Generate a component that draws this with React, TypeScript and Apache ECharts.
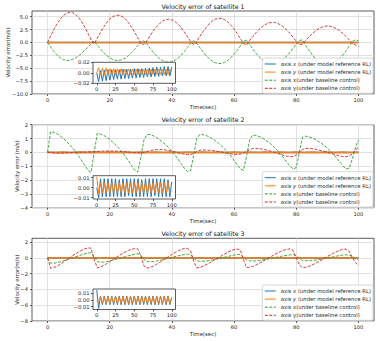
import { useEffect, useRef } from "react";
import * as echarts from "echarts";

// ---------------- data ----------------
const BASE_STEP = 1; // seconds between samples of the baseline curves
const RL_STEP = 2.5; // seconds between samples of the RL curves

const NAME_X_RL = "axis x (under model reference RL)";
const NAME_Y_RL = "axis y (under model reference RL)";
const NAME_X_BASE = "axis x(under baseline control)";
const NAME_Y_BASE = "axis y(under baseline control)";

const TITLES = ["Velocity error of satellite 1", "Velocity error of satellite 2", "Velocity error of satellite 3"];
const Y_LABELS = ["Velocity error(m/s)", "Velocity error (m/s)", "Velocity error(m/s)"];
const X_LABEL = "Time(sec)";

const X_TICKS = [0, 20, 40, 60, 80, 100];
const INSET_X_TICKS = [0, 25, 50, 75, 100];
const Y1_TICKS = [-10, -7.5, -5, -2.5, 0, 2.5, 5];
const Y2_TICKS = [-4, -3, -2, -1, 0, 1, 2];
const Y3_TICKS = [-8, -6, -4, -2, 0, 2];
const INSET1_Y_TICKS = [-0.02, 0, 0.02];
const INSET2_Y_TICKS = [-0.01, 0, 0.01];
const INSET3_Y_TICKS = [-0.01, 0, 0.01];

// satellite 1, baseline control (t = 0..100 s)
const S1_X_BASE = [
  0, -0.9, -1.7, -2.4, -2.95, -3.3, -3.5, -3.45, -3.3, -3.0, -2.6, -2.1, -1.5, -0.9, -0.3,
  0.3,
  -0.53, -1.26, -1.93, -2.51, -2.98, -3.3, -3.48, -3.48, -3.33, -3.02, -2.57, -2.0, -1.33, -0.61,
  0.2, 0.3,
  -0.33, -1.14, -1.9, -2.57, -3.12, -3.53, -3.78, -3.85, -3.74, -3.47, -3.03, -2.45, -1.76, -0.99, -0.16,
  0.35,
  -0.17, -1.02, -1.82, -2.55, -3.16, -3.63, -3.95, -4.09, -4.05, -3.84, -3.46, -2.93, -2.27, -1.51, -0.68,
  0.3, 0.45,
  -0.43, -1.26, -2.05, -2.76, -3.35, -3.82, -4.13, -4.29, -4.27, -4.09, -3.74, -3.24, -2.62, -1.9, -1.11, -0.26,
  0.4, 0.5,
  -0.55, -1.44, -2.28, -3.02, -3.63, -4.1, -4.39, -4.5, -4.42, -4.17, -3.74, -3.15, -2.43, -1.62, -0.73,
  0.2, 0.5, 0.3,
];
const S1_Y_BASE = [
  0, 1.27, 2.49, 3.55, 4.45, 5.15, 5.62, 5.85, 5.8, 5.45, 4.85, 4.0, 2.95, 1.75, 0.5, -0.25,
  0.8, 1.91, 2.93, 3.81, 4.51, 5.0, 5.26, 5.27, 5.04, 4.57, 3.89, 3.02, 2.02, 0.92,
  -0.2, -0.4,
  0.39, 1.34, 2.22, 3.01, 3.65, 4.13, 4.42, 4.5, 4.37, 4.05, 3.54, 2.86, 2.05, 1.15, 0.19,
  -0.45,
  0.2, 1.17, 2.09, 2.92, 3.62, 4.17, 4.53, 4.69, 4.65, 4.4, 3.97, 3.36, 2.61, 1.73, 0.78,
  -0.2, -0.5,
  0.39, 1.15, 1.86, 2.5, 3.04, 3.46, 3.75, 3.89, 3.87, 3.71, 3.39, 2.94, 2.38, 1.72, 1.0, 0.23,
  -0.5, -0.3,
  0.39, 1.02, 1.62, 2.14, 2.58, 2.91, 3.12, 3.2, 3.15, 2.96, 2.66, 2.24, 1.73, 1.15, 0.52,
  -0.1, -0.5, -0.8,
];

// satellite 2, baseline control
const S2_X_BASE = [
  0, 1.5, 1.45, 1.35, 1.2, 1.02, 0.82, 0.58, 0.33, 0.05, -0.25, -0.6, -0.95, -1.3, -1.45,
  0.0,
  1.37, 1.33, 1.24, 1.1, 0.93, 0.74, 0.52, 0.28, 0.02, -0.28, -0.6, -0.95, -1.28, -1.42,
  -0.4, 0.9,
  1.3, 1.28, 1.2, 1.08, 0.93, 0.75, 0.55, 0.33, 0.08, -0.2, -0.5, -0.82, -1.15, -1.38, -1.35,
  -0.2, 1.0,
  1.3, 1.28, 1.22, 1.12, 0.99, 0.84, 0.66, 0.46, 0.24, 0.0, -0.27, -0.58, -0.9, -1.2, -1.3,
  -0.3, 0.9,
  1.25, 1.22, 1.15, 1.05, 0.91, 0.75, 0.56, 0.35, 0.12, -0.13, -0.42, -0.72, -1.0, -1.2, -1.1,
  0.0, 1.1,
  1.17, 1.13, 1.05, 0.95, 0.82, 0.67, 0.5, 0.3, 0.09, -0.15, -0.42, -0.7, -0.98, -1.2, -1.15,
  -0.5, 0.3, 0.9,
];
const S2_Y_BASE = [
  0, -0.02, -0.04, -0.05, -0.05, -0.05, -0.04, -0.03, -0.01, 0.0,
  0.01, 0.02, 0.03, 0.03, 0.04, 0.05, 0.06, 0.08, 0.09, 0.1,
  0.1, 0.1, 0.09, 0.08, 0.06, 0.04, 0.02, 0.0, -0.02, -0.04,
  -0.04, 0.0, 0.06, 0.12, 0.17, 0.2, 0.21, 0.2, 0.17, 0.13,
  0.08, 0.03, -0.03, -0.08, -0.13, -0.16, -0.16, -0.08, 0.06, 0.15,
  0.17, 0.17, 0.15, 0.13, 0.1, 0.06, 0.02, -0.03, -0.07, -0.11,
  -0.14, -0.15, -0.13, -0.06, 0.06, 0.2, 0.28, 0.29, 0.27, 0.24,
  0.19, 0.13, 0.07, 0.0, -0.07, -0.15, -0.22, -0.28, -0.32, -0.3,
  -0.18, 0.02, 0.2, 0.28, 0.29, 0.27, 0.23, 0.18, 0.12, 0.06,
  0.0, -0.06, -0.13, -0.2, -0.26, -0.3, -0.32, -0.28, -0.12, 0.15, 0.36,
];

// satellite 3, baseline control
const S3_X_BASE = [
  0, -0.65, -0.66, -0.6, -0.5, -0.38, -0.25, -0.12, 0.01, 0.14,
  0.27, 0.4, 0.52, 0.62, 0.68, 0.2, -0.45, -0.55, -0.53, -0.46,
  -0.37, -0.27, -0.16, -0.05, 0.06, 0.17, 0.28, 0.38, 0.47, 0.53,
  0.35, -0.2, -0.45, -0.48, -0.45, -0.4, -0.32, -0.23, -0.13, -0.03,
  0.07, 0.17, 0.27, 0.36, 0.44, 0.49, 0.4, 0.0, -0.35, -0.42,
  -0.42, -0.38, -0.32, -0.25, -0.17, -0.08, 0.01, 0.1, 0.19, 0.28,
  0.36, 0.45, 0.42, 0.1, -0.25, -0.35, -0.38, -0.37, -0.33, -0.27,
  -0.2, -0.12, -0.04, 0.04, 0.12, 0.2, 0.27, 0.34, 0.4, 0.43,
  0.25, -0.1, -0.3, -0.34, -0.34, -0.32, -0.28, -0.22, -0.15, -0.08,
  0.0, 0.08, 0.16, 0.24, 0.31, 0.37, 0.4, 0.38, 0.2, -0.05, -0.2,
];
const S3_Y_BASE = [
  0, -1.3, -1.22, -1.05, -0.82, -0.55, -0.28, 0.0, 0.27, 0.52,
  0.76, 0.98, 1.16, 1.28, 1.25, -0.2, -1.25, -1.15, -0.95, -0.72,
  -0.48, -0.22, 0.04, 0.3, 0.54, 0.77, 0.96, 1.1, 1.18, 1.15,
  0.3, -1.0, -1.28, -1.2, -1.03, -0.82, -0.58, -0.32, -0.06, 0.2,
  0.45, 0.69, 0.9, 1.07, 1.2, 1.22, 0.9, -0.4, -1.25, -1.2,
  -1.05, -0.86, -0.65, -0.42, -0.18, 0.06, 0.3, 0.52, 0.73, 0.92,
  1.07, 1.15, 1.0, -0.2, -1.2, -1.18, -1.06, -0.89, -0.69, -0.47,
  -0.25, -0.02, 0.21, 0.43, 0.64, 0.83, 0.99, 1.1, 1.15, 0.95,
  0.0, -0.9, -1.22, -1.18, -1.06, -0.9, -0.71, -0.5, -0.28, -0.05,
  0.18, 0.4, 0.61, 0.8, 0.97, 1.1, 1.13, 0.85, 0.1, -0.55, -0.9,
];

// model reference RL (t = 0, 2.5, ..., 100 s)
const S1_X_RL = [
  0, -0.017, 0.004, -0.016, 0.005, -0.015, 0.006, -0.014, 0.006, -0.013,
  0.006, -0.012, 0.006, -0.012, 0.007, -0.011, 0.007, -0.011, 0.007, -0.01,
  0.008, -0.01, 0.008, -0.009, 0.008, -0.009, 0.009, -0.008, 0.009, -0.008,
  0.01, -0.007, 0.011, -0.007, 0.011, -0.006, 0.012, -0.006, 0.012, -0.006, 0.011,
];
const S1_Y_RL = [
  0, 0.01, -0.004, 0.009, -0.004, 0.009, -0.004, 0.008, -0.004, 0.008,
  -0.004, 0.008, -0.003, 0.008, -0.003, 0.007, -0.003, 0.007, -0.003, 0.007,
  -0.003, 0.007, -0.003, 0.007, -0.003, 0.007, -0.003, 0.007, -0.003, 0.007,
  -0.003, 0.007, -0.003, 0.007, -0.003, 0.007, -0.003, 0.007, -0.003, 0.007, 0.002,
];
const S2_X_RL = [
  0, -0.0102, 0.009, -0.009, 0.009, -0.009, 0.009, -0.009, 0.009, -0.009,
  0.009, -0.009, 0.008, -0.009, 0.009, -0.009, 0.009, -0.008, 0.009, -0.009,
  0.009, -0.009, 0.009, -0.009, 0.008, -0.009, 0.009, -0.009, 0.009, -0.009,
  0.009, -0.008, 0.009, -0.009, 0.009, -0.009, 0.009, -0.009, 0.008, -0.009, 0.006,
];
const S2_Y_RL = [
  0.0109, -0.006, 0.005, -0.005, 0.005, -0.005, 0.005, -0.005, 0.005, -0.005,
  0.005, -0.005, 0.005, -0.005, 0.005, -0.005, 0.005, -0.005, 0.005, -0.005,
  0.005, -0.005, 0.005, -0.005, 0.005, -0.005, 0.005, -0.005, 0.005, -0.005,
  0.005, -0.005, 0.005, -0.005, 0.005, -0.005, 0.005, -0.005, 0.005, -0.005, -0.003,
];
const S3_X_RL = [
  0.015, -0.0128, 0.006, -0.007, 0.006, -0.007, 0.006, -0.007, 0.006, -0.007,
  0.006, -0.007, 0.006, -0.007, 0.006, -0.007, 0.006, -0.007, 0.006, -0.007,
  0.006, -0.007, 0.006, -0.007, 0.006, -0.007, 0.006, -0.007, 0.006, -0.007,
  0.006, -0.007, 0.006, -0.007, 0.006, -0.007, 0.006, -0.007, 0.006, -0.007, 0.004,
];
const S3_Y_RL = [
  0, -0.004, 0.005, -0.005, 0.005, -0.005, 0.005, -0.005, 0.005, -0.005,
  0.005, -0.005, 0.005, -0.005, 0.005, -0.005, 0.005, -0.005, 0.005, -0.005,
  0.005, -0.005, 0.005, -0.005, 0.005, -0.005, 0.005, -0.005, 0.005, -0.005,
  0.005, -0.005, 0.005, -0.005, 0.005, -0.005, 0.005, -0.005, 0.005, -0.005, 0.003,
];

// ---------------- styling / layout ----------------
const FONT = "DejaVu Sans";
const TEXT = "#262626";
const SPINE = "#333333";
const BLUE = "#1f77b4";
const ORANGE = "#ff7f0e";
const GREEN = "#2ca02c";
const RED = "#d62728";
const DASH = [3, 1.5];

const MAIN_LEFT = 32;
const MAIN_WIDTH = 342;
const INSET_LEFT = 93;
const INSET_WIDTH = 82.5;

const PANELS = [
  {
    top: 11, height: 83, yMin: -10, yMax: 6.1, yInterval: 2.5, yTicks: Y1_TICKS, dec: 1, yGap: 22,
    inset: { top: 62.3, height: 21, min: -0.02, max: 0.02, ticks: INSET1_Y_TICKS },
    legendTop: 58, xRL: S1_X_RL, yRL: S1_Y_RL, xBase: S1_X_BASE, yBase: S1_Y_BASE,
  },
  {
    top: 124.7, height: 83, yMin: -4, yMax: 2, yInterval: 1, yTicks: Y2_TICKS, dec: 0, yGap: 13,
    inset: { top: 175.7, height: 23.3, min: -0.0113, max: 0.012, ticks: INSET2_Y_TICKS },
    legendTop: 171.7, xRL: S2_X_RL, yRL: S2_Y_RL, xBase: S2_X_BASE, yBase: S2_Y_BASE,
  },
  {
    top: 238.3, height: 82.7, yMin: -8, yMax: 2.5, yInterval: 2, yTicks: Y3_TICKS, dec: 0, yGap: 13,
    inset: { top: 289, height: 20.5, min: -0.0142, max: 0.0164, ticks: INSET3_Y_TICKS },
    legendTop: 285, xRL: S3_X_RL, yRL: S3_Y_RL, xBase: S3_X_BASE, yBase: S3_Y_BASE,
  },
];

const fmt = (v: number, dec: number) => v.toFixed(dec).replace("-", "\u2212");
const pairs = (vals: number[], step: number) => vals.map((v, i) => [i * step, v]);

function line(name: string, data: number[][], color: string, idx: number, width: number, dashed: boolean, z: number) {
  return {
    type: "line",
    name,
    data,
    xAxisIndex: idx,
    yAxisIndex: idx,
    showSymbol: false,
    symbol: "none",
    silent: true,
    z,
    clip: true,
    itemStyle: { color },
    lineStyle: { color, width, type: dashed ? DASH : "solid" },
    emphasis: { disabled: true },
  };
}

function buildOption() {
  const grid: any[] = [];
  const xAxis: any[] = [];
  const yAxis: any[] = [];
  const series: any[] = [];
  const legend: any[] = [];
  const graphic: any[] = [];

  const tickLabel = { fontSize: 5.2, color: TEXT, fontFamily: FONT };

  PANELS.forEach((p, i) => {
    grid.push({
      left: MAIN_LEFT, width: MAIN_WIDTH, top: p.top, height: p.height,
      show: true, borderColor: SPINE, borderWidth: 0.8, backgroundColor: "transparent", z: 0,
      outerBoundsMode: "none",
    });
    xAxis.push({
      gridIndex: i, type: "value", min: -5, max: 105,
      axisLine: { show: false, onZero: false },
      axisTick: { show: true, inside: false, length: 2, lineStyle: { color: SPINE, width: 0.8 }, customValues: X_TICKS },
      axisLabel: { ...tickLabel, margin: 3.5, customValues: X_TICKS, formatter: (v: number) => fmt(v, 0) },
      splitLine: { show: true, lineStyle: { color: "#d9d9d9", width: 0.8 } },
      name: X_LABEL, nameLocation: "middle", nameGap: 10.5, nameMoveOverlap: false,
      nameTextStyle: { fontSize: 5.4, color: TEXT, fontFamily: FONT },
    });
    yAxis.push({
      gridIndex: i, type: "value", min: p.yMin, max: p.yMax, interval: p.yInterval,
      axisLine: { show: false, onZero: false },
      axisTick: { show: true, inside: false, length: 2, lineStyle: { color: SPINE, width: 0.8 }, customValues: p.yTicks },
      axisLabel: { ...tickLabel, margin: 4, customValues: p.yTicks, formatter: (v: number) => fmt(v, p.dec) },
      splitLine: { show: true, lineStyle: { color: "#d9d9d9", width: 0.8 } },
      name: Y_LABELS[i], nameLocation: "middle", nameGap: p.yGap, nameMoveOverlap: false,
      nameTextStyle: { fontSize: 5.4, color: TEXT, fontFamily: FONT },
    });
    series.push(line(NAME_X_RL, pairs(p.xRL, RL_STEP), BLUE, i, 1.5, false, 2));
    series.push(line(NAME_Y_RL, pairs(p.yRL, RL_STEP), ORANGE, i, 1.5, false, 2));
    series.push(line(NAME_X_BASE, pairs(p.xBase, BASE_STEP), GREEN, i, 0.9, true, 2));
    series.push(line(NAME_Y_BASE, pairs(p.yBase, BASE_STEP), RED, i, 0.9, true, 2));

    legend.push({
      orient: "vertical", top: p.legendTop, right: 7,
      data: [NAME_X_RL, NAME_Y_RL, NAME_X_BASE, NAME_Y_BASE],
      itemWidth: 11, itemHeight: 6, itemGap: 2.1,
      padding: [3, 2, 2, 2],
      backgroundColor: "rgba(255,255,255,0.85)", borderColor: "#cccccc", borderWidth: 0.8, borderRadius: 2,
      selectedMode: false, z: 6,
      itemStyle: { opacity: 0, borderWidth: 0 },
      lineStyle: { width: 1 },
      formatter: (name: string) =>
        name === NAME_X_RL ? "axis {it|x} (under model reference RL)"
          : name === NAME_Y_RL ? "axis {it|y} (under model reference RL)" : name,
      textStyle: {
        fontSize: 5.3, color: TEXT, fontFamily: FONT, lineHeight: 6,
        rich: { it: { fontSize: 5.3, color: TEXT, fontFamily: FONT, fontStyle: "italic", lineHeight: 6 } },
      },
    });

    graphic.push({
      type: "text", x: MAIN_LEFT + MAIN_WIDTH / 2, y: p.top - 5, z: 20, silent: true,
      style: { text: TITLES[i], fontSize: 6.3, fontFamily: FONT, fill: "#111", align: "center", verticalAlign: "middle" },
    });
  });

  PANELS.forEach((p, i) => {
    const gi = 3 + i;
    grid.push({
      left: INSET_LEFT, width: INSET_WIDTH, top: p.inset.top, height: p.inset.height,
      show: true, borderColor: SPINE, borderWidth: 0.8, backgroundColor: "#ffffff", z: 10,
      outerBoundsMode: "none",
    });
    xAxis.push({
      gridIndex: gi, type: "value", min: -5, max: 105, z: 11,
      axisLine: { show: false, onZero: false },
      axisTick: { show: true, inside: false, length: 2, lineStyle: { color: SPINE, width: 0.8 }, customValues: INSET_X_TICKS },
      axisLabel: { ...tickLabel, margin: 3, customValues: INSET_X_TICKS, formatter: (v: number) => fmt(v, 0) },
      splitLine: { show: false },
    });
    yAxis.push({
      gridIndex: gi, type: "value", min: p.inset.min, max: p.inset.max, z: 11,
      axisLine: { show: false, onZero: false },
      axisTick: { show: true, inside: false, length: 2, lineStyle: { color: SPINE, width: 0.8 }, customValues: p.inset.ticks },
      axisLabel: { ...tickLabel, margin: 3.5, customValues: p.inset.ticks, formatter: (v: number) => fmt(v, 2) },
      splitLine: { show: false },
    });
    series.push(line(NAME_X_RL, pairs(p.xRL, RL_STEP), BLUE, gi, 1, false, 12));
    series.push(line(NAME_Y_RL, pairs(p.yRL, RL_STEP), ORANGE, gi, 1, false, 12));
  });

  return {
    animation: false,
    backgroundColor: "#ffffff",
    textStyle: { fontFamily: FONT },
    grid,
    xAxis,
    yAxis,
    series,
    legend,
    graphic,
  };
}

export default function App() {
  const ref = useRef<HTMLDivElement>(null);
  useEffect(() => {
    if (!ref.current) return;
    const chart = echarts.init(ref.current, null, { renderer: "svg" });
    chart.setOption(buildOption() as any);
    return () => chart.dispose();
  }, []);
  return (
    <div
      ref={ref}
      style={{ position: "fixed", left: 0, top: 0, width: 380, height: 341, background: "#fff" }}
    />
  );
}
